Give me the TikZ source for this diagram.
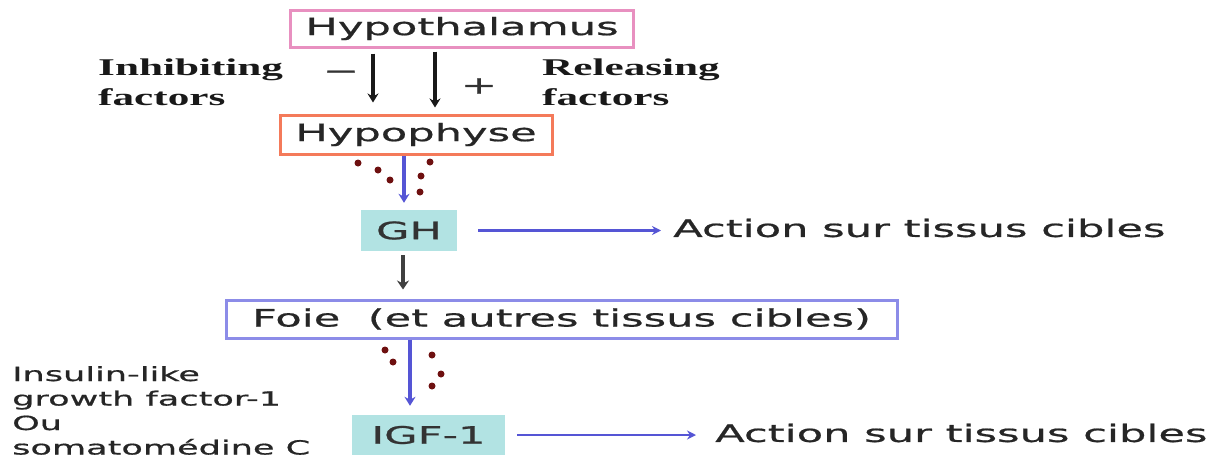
\documentclass[tikz,border=0pt]{standalone}
\usepackage{fontspec}
\usetikzlibrary{arrows.meta,calc}
\newfontfamily\vfont[FakeStretch=1.8,FakeBold=0.8]{DejaVu Sans}
\newfontfamily\tfont[FakeStretch=1.8]{Liberation Serif}
\definecolor{pinkb}{HTML}{E890C0}
\definecolor{salmonb}{HTML}{F47A5A}
\definecolor{violetb}{HTML}{8C8CE8}
\definecolor{cyanf}{HTML}{B2E3E3}
\definecolor{arrblue}{HTML}{5555D5}
\definecolor{dotred}{HTML}{6E1010}
\tikzset{
  box/.style={draw, line width=3pt, inner sep=0pt, font=\vfont\fontsize{24}{28}\selectfont, text=black!85},
  cbox/.style={fill=cyanf, inner sep=0pt, font=\vfont\fontsize{24}{28}\selectfont, text=black!80},
  plain/.style={inner sep=0pt, anchor=west, font=\vfont\fontsize{24}{28}\selectfont, text=black!85},
  side/.style={inner sep=0pt, anchor=north west, align=left, font=\vfont\fontsize{19.5}{24.5}\selectfont, text=black!85},
  serif/.style={inner sep=0pt, anchor=north west, align=left, font=\tfont\bfseries\fontsize{24}{30}\selectfont, text=black!90},
  blackarr/.style={draw=black!90, line width=4pt, -{Stealth[length=9pt,width=11pt]}},
  grayarr/.style={draw=black!75, line width=4.5pt, -{Stealth[length=9pt,width=12pt]}},
  bluearr/.style={draw=arrblue, line width=4pt, -{Stealth[length=9pt,width=11pt]}},
  hblue/.style={draw=arrblue, line width=2.8pt, -{Stealth[length=9pt,width=9pt]}},
  dot/.style={fill=dotred, circle, inner sep=0pt, minimum size=7pt}
}
\begin{document}
\begin{tikzpicture}[x=1pt,y=-1pt]
\useasboundingbox (0,0) rectangle (1223,461);
% boxes
\node[box, draw=pinkb, minimum width=343pt, minimum height=37pt] (hthal) at (462,28.5) {Hypothalamus};
\node[box, draw=salmonb, minimum width=272pt, minimum height=39pt] (hphys) at (416,134.5) {Hypophyse};
\node[cbox, minimum width=96pt, minimum height=41pt] (gh) at (409,230.5) {GH};
\node[box, draw=violetb, minimum width=671pt, minimum height=38pt] (foie) at (561.5,319) {Foie\ \ (et autres tissus cibles)};
\node[cbox, minimum width=153pt, minimum height=40pt] (igf) at (428.5,435) {IGF-1};
% labels
\node[serif] (inh) at (98,59) {Inhibiting\\factors};
\node[serif] (rel) at (542,59) {Releasing\\factors};
\node[inner sep=0pt, font=\vfont\fontsize{24}{28}\selectfont, text=black!80] (minus) at (341,75) {−};
\node[inner sep=0pt, font=\vfont\fontsize{24}{28}\selectfont, text=black!80] (plus) at (479,86) {+};
\node[plain] (act1) at (673,228) {Action sur tissus cibles};
\node[plain] (act2) at (715,433) {Action sur tissus cibles};
\node[side] (igfname) at (12,366) {Insulin-like\\growth factor-1\\Ou\\somatomédine C};
% connector columns
\coordinate (la) at (373,0);
\coordinate (ra) at (435,0);
\coordinate (ba) at (404,0);
\coordinate (ga) at (403,0);
\coordinate (fa) at (410,0);
% arrows
\draw[blackarr, shorten <=5pt, shorten >=11pt] (hthal.south -| la) -- (hphys.north -| la);
\draw[blackarr, shorten <=3pt, shorten >=6pt] (hthal.south -| ra) -- (hphys.north -| ra);
\draw[bluearr, shorten >=7pt] (hphys.south -| ba) -- (gh.north -| ba);
\draw[grayarr, shorten <=4pt, shorten >=9pt] (gh.south -| ga) -- (foie.north -| ga);
\draw[bluearr, shorten >=9pt] (foie.south -| fa) -- (igf.north -| fa);
\draw[hblue, shorten <=21pt, shorten >=12pt] (gh.east) -- (act1.west |- gh.east);
\draw[hblue, shorten <=12pt, shorten >=19pt] (igf.east) -- (act2.west |- igf.east);
% dots
\foreach \p in {(358,163),(378,170),(390,180),(430,162),(421,176),(420,192),
                (385,350),(393,362),(432,355),(441,374),(432,386)}
  \node[dot] at \p {};
\end{tikzpicture}
\end{document}
